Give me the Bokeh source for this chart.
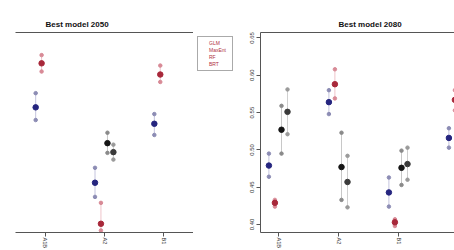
import math
from bokeh.plotting import figure
from bokeh.layouts import row
from bokeh.models import (Range1d, FixedTicker, LinearAxis, Title, Legend,
                          LegendItem, ColumnDataSource)
from bokeh.embed import file_html
from bokeh.resources import INLINE

NaN = float("nan")

# ---------------- data ----------------
left_categories = ["A1B", "A2", "B1"]
right_categories = ["A1B", "A2", "B1", "B2"]
series_names = ["GLM", "MaxEnt", "RF", "BRT"]
y_ticks = [0.40, 0.45, 0.50, 0.55, 0.60, 0.65]

# Best model 2050 (left panel): lower / estimate / upper per category
m2050_glm_lo = [0.540, 0.437, 0.520]
m2050_glm_mid = [0.557, 0.456, 0.535]
m2050_glm_hi = [0.576, 0.476, 0.548]
m2050_maxent_lo = [0.605, 0.392, 0.591]
m2050_maxent_mid = [0.616, 0.401, 0.601]
m2050_maxent_hi = [0.627, 0.429, 0.613]
m2050_rf_lo = [NaN, 0.496, NaN]
m2050_rf_mid = [NaN, 0.509, NaN]
m2050_rf_hi = [NaN, 0.523, NaN]
m2050_brt_lo = [NaN, 0.487, NaN]
m2050_brt_mid = [NaN, 0.497, NaN]
m2050_brt_hi = [NaN, 0.507, NaN]

# Best model 2080 (right panel)
m2080_glm_lo = [0.464, 0.548, 0.424, 0.503]
m2080_glm_mid = [0.479, 0.564, 0.443, 0.516]
m2080_glm_hi = [0.495, 0.580, 0.463, 0.529]
m2080_maxent_lo = [0.424, 0.569, 0.398, 0.553]
m2080_maxent_mid = [0.429, 0.588, 0.403, 0.567]
m2080_maxent_hi = [0.433, 0.608, 0.407, 0.580]
m2080_rf_lo = [0.495, 0.433, 0.453, NaN]
m2080_rf_mid = [0.527, 0.477, 0.476, NaN]
m2080_rf_hi = [0.559, 0.523, 0.499, NaN]
m2080_brt_lo = [0.521, 0.423, 0.460, NaN]
m2080_brt_mid = [0.551, 0.457, 0.481, NaN]
m2080_brt_hi = [0.581, 0.492, 0.503, NaN]

left_data = {
    "GLM": (m2050_glm_lo, m2050_glm_mid, m2050_glm_hi),
    "MaxEnt": (m2050_maxent_lo, m2050_maxent_mid, m2050_maxent_hi),
    "RF": (m2050_rf_lo, m2050_rf_mid, m2050_rf_hi),
    "BRT": (m2050_brt_lo, m2050_brt_mid, m2050_brt_hi),
}
right_data = {
    "GLM": (m2080_glm_lo, m2080_glm_mid, m2080_glm_hi),
    "MaxEnt": (m2080_maxent_lo, m2080_maxent_mid, m2080_maxent_hi),
    "RF": (m2080_rf_lo, m2080_rf_mid, m2080_rf_hi),
    "BRT": (m2080_brt_lo, m2080_brt_mid, m2080_brt_hi),
}

# ---------------- styles ----------------
styles = {
    "GLM": dict(offset=-0.16, mid="#25257f", end="#8c8cb4", bar="#c4c4de"),
    "MaxEnt": dict(offset=-0.06, mid="#a8283a", end="#d88a96", bar="#efc4ca"),
    "RF": dict(offset=0.05, mid="#151515", end="#8a8a8a", bar="#c8c8c8"),
    "BRT": dict(offset=0.15, mid="#3a3a3a", end="#9a9a9a", bar="#d0d0d0"),
}

FONT = "Liberation Sans"
AX = "#555555"
Y_LO, Y_HI = 0.3893, 0.6573


def blank_axis():
    return LinearAxis(ticker=FixedTicker(ticks=[]), axis_line_color=AX,
                      major_tick_out=0, major_tick_in=0, minor_tick_out=0,
                      minor_tick_in=0, major_label_standoff=0,
                      axis_label_standoff=0)


def make_panel(title, cats, data, x_range, width, b_left, b_right, title_off,
               show_y, show_right):
    p = figure(width=width, height=250, x_range=x_range,
               y_range=Range1d(Y_LO, Y_HI), output_backend="svg",
               toolbar_location=None, x_axis_location=None,
               y_axis_location=None, min_border_left=b_left,
               min_border_right=b_right, min_border_top=32,
               min_border_bottom=17, background_fill_color="white",
               border_fill_color="white")
    p.outline_line_color = None
    p.grid.visible = False

    xa = LinearAxis(ticker=FixedTicker(ticks=list(range(1, len(cats) + 1))),
                    major_label_overrides={i + 1: c for i, c in enumerate(cats)},
                    major_label_orientation="vertical",
                    major_label_text_font=FONT,
                    major_label_text_font_size="5.5px",
                    major_label_text_color="#333333",
                    major_label_standoff=1, axis_label_standoff=0,
                    axis_line_color=AX, major_tick_line_color=AX,
                    major_tick_out=4, major_tick_in=0,
                    minor_tick_out=0, minor_tick_in=0)
    p.add_layout(xa, "below")

    if show_y:
        ya = LinearAxis(ticker=FixedTicker(ticks=y_ticks),
                        major_label_overrides={t: f"{t:.2f}" for t in y_ticks},
                        major_label_orientation="vertical",
                        major_label_text_font=FONT,
                        major_label_text_font_size="6px",
                        major_label_text_color="#333333",
                        major_label_standoff=2, axis_label_standoff=0,
                        axis_line_color=AX, major_tick_line_color=AX,
                        major_tick_out=4, major_tick_in=0,
                        minor_tick_out=0, minor_tick_in=0)
        p.add_layout(ya, "left")

    p.add_layout(blank_axis(), "above")
    if show_right:
        p.add_layout(blank_axis(), "right")

    p.add_layout(Title(text=title, align="left", offset=title_off,
                       text_font=FONT, text_font_size="8px",
                       text_font_style="bold", text_color="#111111",
                       standoff=8), "above")

    for name in series_names:
        lo, mid, hi = data[name]
        st = styles[name]
        xs = [i + 1 + st["offset"] for i in range(len(cats))]
        src = ColumnDataSource(dict(x=xs, lo=lo, mid=mid, hi=hi))
        p.segment(x0="x", y0="lo", x1="x", y1="hi", source=src,
                  line_color=st["bar"], line_width=1)
        p.scatter(x="x", y="lo", source=src, size=3.5, marker="circle",
                  fill_color=st["end"], line_color=st["end"])
        p.scatter(x="x", y="hi", source=src, size=3.5, marker="circle",
                  fill_color=st["end"], line_color=st["end"])
        p.scatter(x="x", y="mid", source=src, size=5.5, marker="circle",
                  fill_color=st["mid"], line_color=st["mid"])
    return p


left = make_panel("Best model 2050", left_categories, left_data,
                  Range1d(0.5, 3.5), 193, 15, 0, 30, False, True)
right = make_panel("Best model 2080", right_categories, right_data,
                   Range1d(0.7, 0.7 + 194 / 60), 214, 20, 0, 78, True, False)

# legend strip between the two panels
leg_fig = figure(width=47, height=250, x_range=Range1d(0, 1),
                 y_range=Range1d(0, 1), output_backend="svg",
                 toolbar_location=None, x_axis_location=None,
                 y_axis_location=None, min_border=0,
                 background_fill_color="white", border_fill_color="white")
leg_fig.outline_line_color = None
leg_fig.grid.visible = False
items = []
for name in series_names:
    st = styles[name]
    r = leg_fig.scatter(x=[], y=[], size=5, marker="circle",
                        fill_color=st["mid"], line_color=st["mid"])
    items.append(LegendItem(label=name, renderers=[r]))
legend = Legend(items=items, location="top_left", orientation="vertical",
                label_text_font=FONT, label_text_font_size="5px",
                label_text_color="#b03040", label_height=6, label_standoff=2,
                glyph_height=6, glyph_width=6, spacing=1, padding=3, margin=4,
                border_line_color="#555555", border_line_width=1,
                background_fill_color="white", background_fill_alpha=1.0)
leg_fig.add_layout(legend, "center")

layout = row(left, leg_fig, right, spacing=0)
open("out.html", "w").write(file_html(layout, INLINE))
